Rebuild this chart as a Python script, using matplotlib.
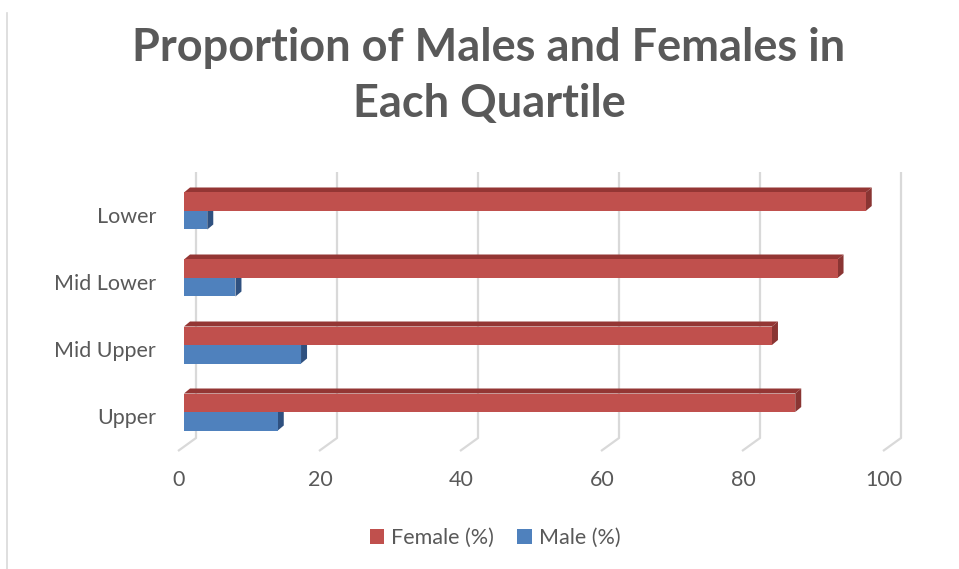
"""
Proportion of males and females per pay quartile - Excel style 3D bar chart
"""
import matplotlib
matplotlib.use('Agg')
import matplotlib.pyplot as plt
from matplotlib.patches import Polygon, Patch
from matplotlib.lines import Line2D
from matplotlib.transforms import ScaledTranslation

plt.rcParams['font.family'] = ['Lato', 'DejaVu Sans']

# Data
quartiles = ['Upper', 'Mid Upper', 'Mid Lower', 'Lower']
female_pct = [86.7, 83.4, 92.7, 96.7]
male_pct = [13.3, 16.6, 7.3, 3.3]
x_ticks = [0, 20, 40, 60, 80, 100]

RED, RED_TOP, RED_SIDE = '#C0504D', '#943634', '#8A3533'
BLUE, BLUE_TOP, BLUE_SIDE = '#4F81BD', '#385D8A', '#2F5180'
GRID = '#D9D9D9'
TEXT = '#595959'

W, H = 959, 569
fig = plt.figure(figsize=(W / 100, H / 100), dpi=100)

# axes in pixel terms: x 0->184px, 100->889px ; y top 172px, bottom 451px
ax = fig.add_axes([184 / W, 1 - 451 / H, 705 / W, 279 / H])
ax.set_xlim(0, 100)
ax.set_ylim(-0.582, 3.582)
for s in ax.spines.values():
    s.set_visible(False)

px_x = 100 / 705.0   # data units per pixel (x)
px_y = 4.164 / 279.0  # data units per pixel (y)

# back-wall gridlines with a little diagonal "floor" tail
back_dx = 12 * px_x
back_bottom = -0.388
for v in x_ticks:
    ax.plot([v + back_dx, v + back_dx, v - 6 * px_x],
            [3.582, back_bottom, -0.582],
            color=GRID, lw=1.6, zorder=1, clip_on=False, solid_capstyle='butt')

# 3D-ish bars
bar_h = 18.5 * px_y
dx, dy = 6 * px_x, 5 * px_y


def bar3d(v, y0, face, top, side):
    y1 = y0 + bar_h
    ax.add_patch(Polygon([(0, y0), (v, y0), (v, y1), (0, y1)], closed=True,
                         facecolor=face, edgecolor='none', zorder=3, clip_on=False))
    ax.add_patch(Polygon([(0, y1), (v, y1), (v + dx, y1 + dy), (dx, y1 + dy)], closed=True,
                         facecolor=top, edgecolor='none', zorder=2, clip_on=False))
    ax.add_patch(Polygon([(v, y0), (v, y1), (v + dx, y1 + dy), (v + dx, y0 + dy)], closed=True,
                         facecolor=side, edgecolor='none', zorder=2, clip_on=False))


for i, q in enumerate(quartiles):
    bar3d(male_pct[i], i - bar_h, BLUE, BLUE_TOP, BLUE_SIDE)
    bar3d(female_pct[i], i, RED, RED_TOP, RED_SIDE)

# tick labels
ax.set_xticks(x_ticks)
ax.set_xticklabels([str(t) for t in x_ticks])
ax.set_yticks(range(len(quartiles)))
ax.set_yticklabels(quartiles)
ax.tick_params(axis='both', length=0, colors=TEXT, labelsize=15.5)
ax.tick_params(axis='x', pad=14)
ax.tick_params(axis='y', pad=20)
for lab in ax.get_xticklabels():
    lab.set_transform(lab.get_transform() + ScaledTranslation(-5 / 100, 0, fig.dpi_scale_trans))
for lab in ax.get_yticklabels():
    lab.set_transform(lab.get_transform() + ScaledTranslation(0, -4 / 100, fig.dpi_scale_trans))

# title
fig.text(489 / W, 1 - 76 / H, 'Proportion of Males and Females in\nEach Quartile',
         ha='center', va='center', fontsize=32.5, fontweight='bold', color=TEXT,
         linespacing=1.4)

# legend
handles = [Patch(facecolor=RED, edgecolor='none', label='Female (%)'),
           Patch(facecolor=BLUE, edgecolor='none', label='Male (%)')]
leg = fig.legend(handles=handles, loc='center', bbox_to_anchor=(495 / W, 1 - 538 / H),
                 ncol=2, frameon=False, fontsize=15.5, handlelength=0.68, handleheight=0.68,
                 handletextpad=0.3, columnspacing=1.1)
for t in leg.get_texts():
    t.set_color(TEXT)

# chart area border on the left
fig.add_artist(Line2D([7 / W, 7 / W], [0, 1 - 13 / H], color=GRID, lw=1.2))

plt.savefig('out.png', dpi=100)
plt.close()
